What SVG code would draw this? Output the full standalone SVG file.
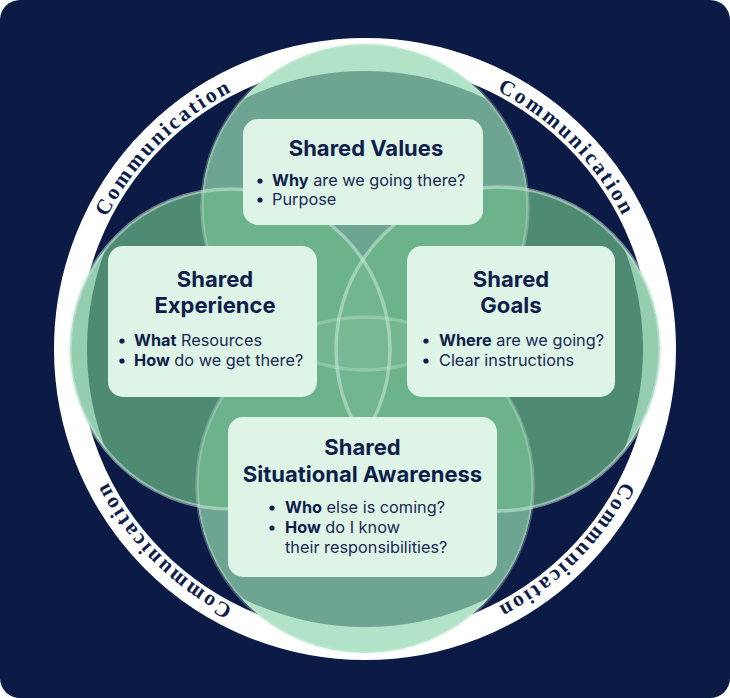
<svg xmlns="http://www.w3.org/2000/svg" width="730" height="698" viewBox="0 0 730 698">
<style>
.title{font-family:Inter,"Noto Sans",sans-serif;font-weight:700;font-size:22px;fill:#0e1d4a;text-anchor:middle}
.body{font-family:Inter,"Noto Sans",sans-serif;font-weight:400;font-size:16.3px;fill:#1a2852}
.b{font-weight:700;fill:#0e1d4a}
.dot{fill:#0e1d4a}
.box{fill:#ddf4e7}
.comm{font-family:"Liberation Serif","DejaVu Serif",serif;font-weight:700;font-size:21.5px;fill:#0e1d4a;letter-spacing:2.6px}
.edge{fill:none;stroke:#d4f0e2;stroke-opacity:0.5;stroke-width:3.5}
.edge2{fill:none;stroke:#d4f0e2;stroke-opacity:0.3;stroke-width:3.5}
.ov{fill:#6cb38c}
</style>
<defs>
<clipPath id="inner"><circle cx="365" cy="349" r="278"/></clipPath>
<clipPath id="cT"><circle cx="365" cy="207" r="163"/></clipPath>
<clipPath id="cB"><circle cx="365" cy="485" r="168"/></clipPath>
<clipPath id="cL"><circle cx="230" cy="349" r="160"/></clipPath>
<clipPath id="cR"><circle cx="498" cy="349" r="162"/></clipPath>
<path id="commPath" d="M 75 349 A 290 290 0 1 1 655 349 A 290 290 0 1 1 75 349"/>
</defs>
<rect x="0" y="0" width="730" height="698" fill="#ffffff"/>
<rect x="0" y="0" width="730" height="698" rx="20" fill="#0c1b45"/>
<circle cx="365" cy="349" r="298.5" fill="none" stroke="#ffffff" stroke-width="25"/>
<g id="ring-text">
<text class="comm"><textPath href="#commPath" startOffset="227.8" text-anchor="middle">Communication</textPath></text>
<text class="comm"><textPath href="#commPath" startOffset="683.3" text-anchor="middle">Communication</textPath></text>
<text class="comm"><textPath href="#commPath" startOffset="1138.8" text-anchor="middle">Communication</textPath></text>
<text class="comm"><textPath href="#commPath" startOffset="1594.3" text-anchor="middle">Communication</textPath></text>
</g>
<g id="venn">
<g id="halos">
<circle cx="365" cy="207" r="163" fill="#b2e3c8"/>
<circle cx="365" cy="485" r="168" fill="#b2e3c8"/>
<circle cx="230" cy="349" r="160" fill="#94cdb0"/>
<circle cx="498" cy="349" r="162" fill="#94cdb0"/>
</g>
<g clip-path="url(#inner)">
<circle cx="230" cy="349" r="160" fill="#4f8a73"/>
<circle cx="498" cy="349" r="162" fill="#4f8a73"/>
<circle cx="365" cy="207" r="163" fill="#6da592"/>
<circle cx="365" cy="485" r="168" fill="#6da592"/>
<circle class="ov" cx="230" cy="349" r="160" clip-path="url(#cT)"/>
<circle class="ov" cx="230" cy="349" r="160" clip-path="url(#cB)"/>
<circle class="ov" cx="498" cy="349" r="162" clip-path="url(#cT)"/>
<circle class="ov" cx="498" cy="349" r="162" clip-path="url(#cB)"/>
<circle class="ov" cx="230" cy="349" r="160" clip-path="url(#cR)"/>
<circle class="ov" cx="365" cy="207" r="163" clip-path="url(#cB)"/>
<circle cx="365" cy="207" r="163" clip-path="url(#cB)" fill="#ffffff" fill-opacity="0.05"/>
<circle cx="230" cy="349" r="160" clip-path="url(#cR)" fill="#ffffff" fill-opacity="0.04"/>
</g>
<g id="edges">
<circle class="edge2" cx="365" cy="207" r="163"/>
<circle class="edge2" cx="365" cy="485" r="168"/>
<circle class="edge" cx="230" cy="349" r="160"/>
<circle class="edge" cx="498" cy="349" r="162"/>
</g>
</g>
<g id="connectors"></g>
<g id="shared-values">
<rect class="box" x="243" y="119" width="240" height="106" rx="15"/>
<text class="title" x="366" y="156">Shared Values</text>
<circle class="dot" cx="260" cy="181" r="2.6"/>
<circle class="dot" cx="260" cy="200" r="2.6"/>
<text class="body" x="272" y="186"><tspan class="b">Why</tspan> are we going there?</text>
<text class="body" x="272" y="205">Purpose</text>
</g>
<g id="shared-experience">
<rect class="box" x="108" y="246" width="209" height="151" rx="15"/>
<text class="title" x="215" y="287">Shared</text>
<text class="title" x="215" y="313">Experience</text>
<circle class="dot" cx="122" cy="341" r="2.6"/>
<circle class="dot" cx="122" cy="361" r="2.6"/>
<text class="body" x="134" y="346"><tspan class="b">What</tspan> Resources</text>
<text class="body" x="134" y="366"><tspan class="b">How</tspan> do we get there?</text>
</g>
<g id="shared-goals">
<rect class="box" x="407" y="246" width="208" height="151" rx="15"/>
<text class="title" x="511" y="287">Shared</text>
<text class="title" x="511" y="313">Goals</text>
<circle class="dot" cx="426" cy="341" r="2.6"/>
<circle class="dot" cx="426" cy="361" r="2.6"/>
<text class="body" x="439" y="346"><tspan class="b">Where</tspan> are we going?</text>
<text class="body" x="439" y="366">Clear instructions</text>
</g>
<g id="shared-situational-awareness">
<rect class="box" x="228" y="417" width="269" height="160" rx="15"/>
<text class="title" x="362.5" y="455">Shared</text>
<text class="title" x="362.5" y="482">Situational Awareness</text>
<circle class="dot" cx="272" cy="508" r="2.6"/>
<circle class="dot" cx="272" cy="528" r="2.6"/>
<text class="body" x="285" y="513"><tspan class="b">Who</tspan> else is coming?</text>
<text class="body" x="285" y="533"><tspan class="b">How</tspan> do I know</text>
<text class="body" x="285" y="553">their responsibilities?</text>
</g>
</svg>
